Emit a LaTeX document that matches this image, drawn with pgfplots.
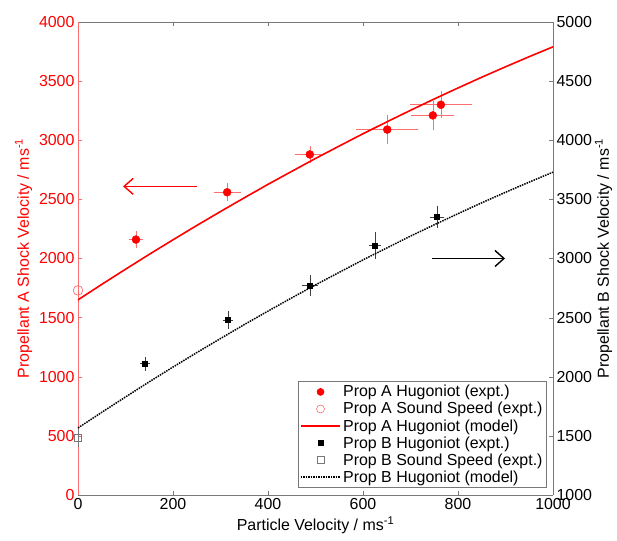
\documentclass[border=0pt]{standalone}
\usepackage{fontspec}
\setmainfont{Liberation Sans}
\usepackage{pgfplots}
\pgfplotsset{compat=1.18}
\usetikzlibrary{arrows.meta}

\definecolor{mred}{RGB}{255,0,0}
\definecolor{lred}{RGB}{255,110,110}
\definecolor{axgray}{RGB}{120,120,120}

\pgfplotsset{
  every axis/.append style={
    font=\fontsize{16}{19}\selectfont,
    /pgf/number format/assume math mode=true,
    /pgf/number format/1000 sep={},
    scale only axis, width=475bp, height=473bp,
    xmin=0, xmax=1000,
    tick align=inside, major tick length=4bp,
    clip=false,
  },
}

\begin{document}
\begin{tikzpicture}
% left axis: Prop A
\begin{axis}[
  name=ax,
  axis x line*=box, axis y line*=left,
  ymin=0, ymax=4000,
  xtick={0,200,...,1000},
  ytick={0,500,...,4000},
  x axis line style={axgray},
  y axis line style={lred},
  every tick/.style={axgray},
  ytick style={lred},
  yticklabel style={mred},
  xlabel={Particle Velocity / ms\textsuperscript{-1}},
  ylabel={Propellant A Shock Velocity / ms\textsuperscript{-1}},
  ylabel style={mred},
]
% Prop A Hugoniot (expt.)
\addplot[only marks, mark=*, mark size=4bp, color=mred,
  error bars/.cd, x dir=both, x explicit, y dir=both, y explicit,
  error bar style={lred, line width=0.6bp}, error mark options={lred, mark size=2.5bp, line width=0.6bp}]
  coordinates {
  (122,2160) +- (10,50)
  (314,2560) +- (23,55)
  (488,2880) +- (25,50)
  (651,3090) +- (60,100)
  (747,3210) +- (40,100)
  (764,3300) +- (60,95)
};
% Prop A Sound Speed (expt.)
\addplot[only marks, mark=o, mark size=4.8bp, color=lred, line width=0.7bp,
  error bars/.cd, y dir=both, y explicit,
  error bar style={lred, line width=0.6bp}, error mark options={lred, mark size=2.5bp}]
  coordinates {(0,1730) +- (0,40)};
% Prop A Hugoniot (model)
\addplot[mred, line width=1.6bp] coordinates {
  (0,1650) (50,1781) (100,1909) (150,2035) (200,2158) (250,2279) (300,2397)
  (350,2513) (400,2627) (450,2737) (500,2846) (550,2951) (600,3055)
  (650,3155) (700,3253) (750,3349) (800,3442) (850,3533) (900,3621)
  (950,3707) (1000,3790)
};
\draw[mred, line width=1.4bp, -{Straight Barb[length=9bp, width=16bp]}]
  (axis cs:250,2610) -- (axis cs:95,2610);
\end{axis}

% right axis: Prop B
\begin{axis}[
  axis y line*=right, axis x line=none,
  ymin=1000, ymax=5000,
  ytick={1000,1500,...,5000},
  y axis line style={axgray},
  ytick style={axgray},
  ylabel={Propellant B Shock Velocity / ms\textsuperscript{-1}},
  ylabel style={yshift=4bp},
  legend cell align=left,
  legend style={at={(0.987,0.015)}, anchor=south east,
    draw=axgray, line width=0.6bp, inner sep=2bp, row sep=0bp,
    font=\fontsize{16}{19}\selectfont},
  legend image code/.code={\draw[mark repeat=2,mark phase=2,#1]
    plot coordinates {(0cm,0cm) (0.7cm,0cm) (1.4cm,0cm)};},
]
\addlegendimage{only marks, mark=*, mark size=3.5bp, color=mred}
\addlegendentry{Prop A Hugoniot (expt.)}
\addlegendimage{only marks, mark=o, mark size=4bp, color=lred}
\addlegendentry{Prop A Sound Speed (expt.)}
\addlegendimage{mred, line width=1.6bp}
\addlegendentry{Prop A Hugoniot (model)}
% Prop B Hugoniot (expt.)
\addplot[only marks, mark=square*, mark size=2.5bp, color=black,
  error bars/.cd, x dir=both, x explicit, y dir=both, y explicit,
  error bar style={black!75, line width=0.6bp}, error mark options={black!75, mark size=2.5bp, line width=0.6bp}]
  coordinates {
  (141,2110) +- (6,40)
  (316,2480) +- (6,55)
  (488,2770) +- (12,70)
  (625,3110) +- (8,90)
  (756,3350) +- (10,75)
};
\addlegendentry{Prop B Hugoniot (expt.)}
% Prop B Sound Speed (expt.)
\addplot[only marks, mark=square, mark size=3.5bp, color=axgray, line width=0.7bp,
  error bars/.cd, y dir=both, y explicit,
  error bar style={axgray, line width=0.6bp}, error mark options={axgray, mark size=2.5bp}]
  coordinates {(0,1480) +- (0,55)};
\addlegendentry{Prop B Sound Speed (expt.)}
% Prop B Hugoniot (model)
\addplot[black, line width=1.5bp, densely dotted] coordinates {
  (0,1567) (50,1699) (100,1829) (150,1957) (200,2082) (250,2204) (300,2323)
  (350,2441) (400,2555) (450,2667) (500,2777) (550,2883) (600,2988)
  (650,3089) (700,3189) (750,3285) (800,3379) (850,3471) (900,3560)
  (950,3646) (1000,3730)
};
\addlegendentry{Prop B Hugoniot (model)}
\draw[black, line width=1.4bp, -{Straight Barb[length=9bp, width=16bp]}]
  (axis cs:745,3000) -- (axis cs:899,3000);
\end{axis}
\path ([xshift=-78bp, yshift=-46bp]ax.south west) rectangle ([xshift=64bp, yshift=22bp]ax.north east);
\end{tikzpicture}
\end{document}
